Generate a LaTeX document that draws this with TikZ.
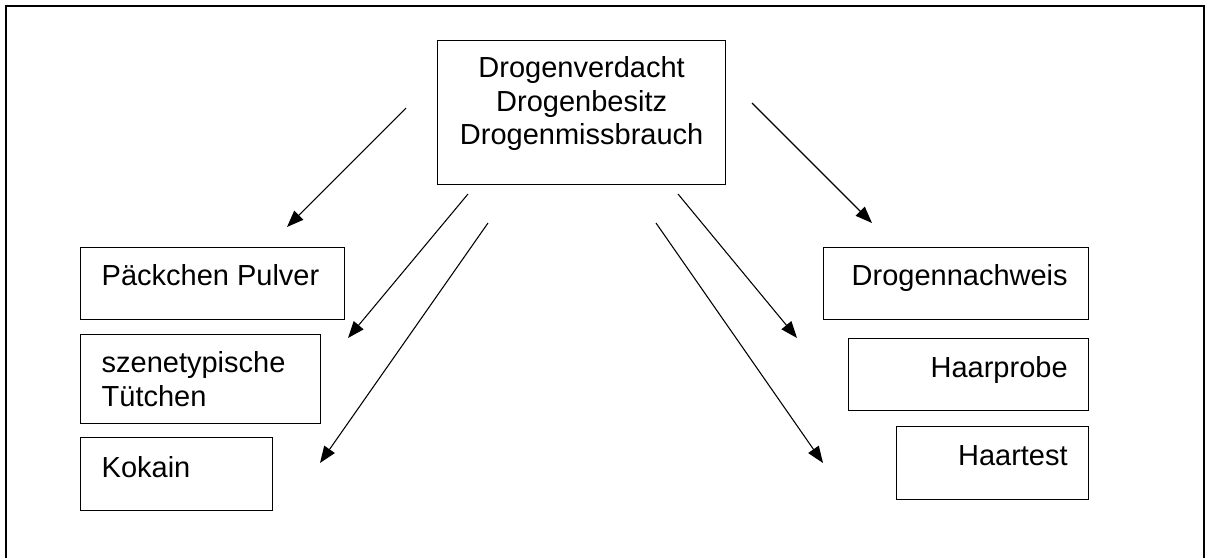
\documentclass[tikz,border=0pt]{standalone}
\usepackage{fontspec}
\setmainfont{Liberation Sans}
\usetikzlibrary{arrows.meta}

\tikzset{
  kasten/.style={draw, line width=1pt, inner sep=0pt, anchor=north west,
    font=\fontsize{21.75}{25}\selectfont},
  pfeil/.style={-{Triangle[length=12.5pt,width=9.5pt]}, line width=0.8pt},
  rahmen/.style={line width=1pt},
}

\begin{document}
\begin{tikzpicture}[x=0.75pt,y=0.75pt,yscale=-1,xscale=1]
        \useasboundingbox (0,0) rectangle (1207,558);

        %Frame
        \draw[rahmen] (6,558) -- (6,6) -- (1204,6) -- (1204,558);

        %Top box
        \node[kasten] (verdacht) at (437,40) {\parbox[c][108pt][t]{216pt}{\centering\rule{0pt}{27.75pt}Drogenverdacht\\Drogenbesitz\\Drogenmissbrauch}};

        %Left boxes
        \node[kasten] (pulver) at (80,247) {\parbox[c][54pt][t]{198pt}{\raggedright\leftskip=15.75pt\rule{0pt}{28.5pt}Päckchen Pulver}};
        \node[kasten] (tuetchen) at (80,334) {\parbox[c][66.75pt][t]{180pt}{\raggedright\leftskip=15.75pt\rule{0pt}{28.5pt}szenetypische\\Tütchen}};
        \node[kasten] (kokain) at (80,437) {\parbox[c][54.75pt][t]{144pt}{\raggedright\leftskip=15.75pt\rule{0pt}{30pt}Kokain}};

        %Right boxes
        \node[kasten] (nachweis) at (823,247) {\parbox[c][54pt][t]{198.75pt}{\raggedleft\rightskip=15.75pt\rule{0pt}{28.5pt}Drogennachweis}};
        \node[kasten] (haarprobe) at (848,338) {\parbox[c][54pt][t]{180pt}{\raggedleft\rightskip=15.75pt\rule{0pt}{29.25pt}Haarprobe}};
        \node[kasten] (haartest) at (896,426) {\parbox[c][54.75pt][t]{144pt}{\raggedleft\rightskip=15.75pt\rule{0pt}{29.25pt}Haartest}};

        %Arrow ends
        \coordinate (a1) at (406,108);  \coordinate (b1) at (287,227);
        \coordinate (a2) at (468,194);  \coordinate (b2) at (348,338);
        \coordinate (a3) at (488,223);  \coordinate (b3) at (320,463);
        \coordinate (a4) at (678,194);  \coordinate (b4) at (797,338);
        \coordinate (a5) at (656,223);  \coordinate (b5) at (823,463);
        \coordinate (a6) at (752,103);  \coordinate (b6) at (872,223);

        %Arrows
        \draw[pfeil] (a1) -- (b1);
        \draw[pfeil] (a2) -- (b2);
        \draw[pfeil] (a3) -- (b3);
        \draw[pfeil] (a4) -- (b4);
        \draw[pfeil] (a5) -- (b5);
        \draw[pfeil] (a6) -- (b6);

\end{tikzpicture}
\end{document}
